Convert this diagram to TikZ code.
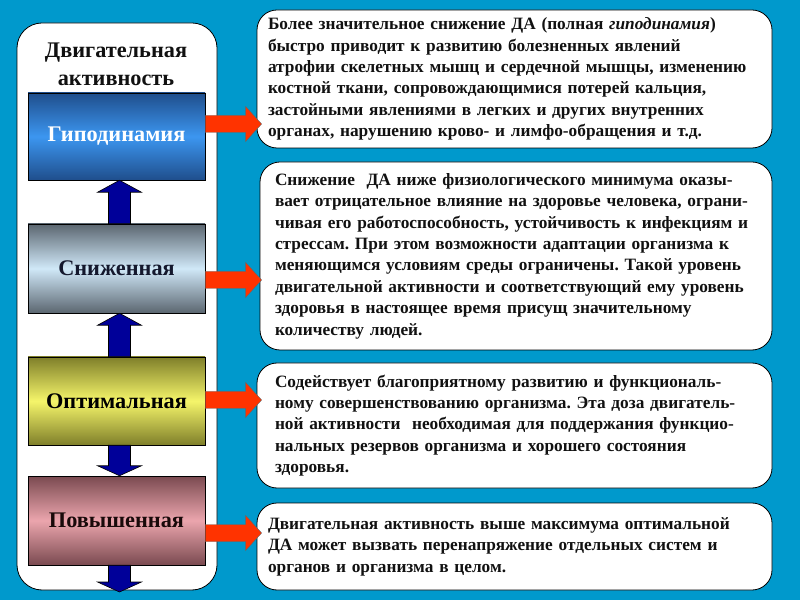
\documentclass[tikz,border=0pt]{standalone}
\usepackage{fontspec}
\setmainfont{Liberation Serif}
\usetikzlibrary{calc}
\definecolor{bg}{HTML}{0099CC}
\definecolor{hypoTop}{HTML}{1F4E8C}
\definecolor{hypoMid}{HTML}{3C96F0}
\definecolor{snTop}{HTML}{5B6670}
\definecolor{snMid}{HTML}{D0E8F8}
\definecolor{optTop}{HTML}{7F7F2A}
\definecolor{optMid}{HTML}{F5F56A}
\definecolor{povTop}{HTML}{7A4A50}
\definecolor{povMid}{HTML}{EBA5AD}
\definecolor{redarrow}{HTML}{FF3300}
\definecolor{navyarrow}{HTML}{000099}
\definecolor{ink}{HTML}{111111}
\tikzset{
  panel/.style={draw=black, line width=0.8pt, fill=white, rounded corners=25pt},
  level/.style={draw=black, line width=0.5pt, minimum width=177pt, font=\fontsize{22.3}{26}\selectfont\bfseries},
  tbox/.style={draw=black, line width=0.8pt, fill=white, rounded corners=20pt, minimum width=515pt,
    align=left, text=ink, font=\fontsize{17.3}{21.4}\selectfont\bfseries},
  bluearr/.style={draw=black, line width=0.6pt, fill=navyarrow},
  redarr/.style={draw=black!60, line width=0.4pt, fill=redarrow},
}
\newcommand\uparr[2]{\path[bluearr] let \p1=(#1), \p2=(#2) in
  (\x2-11pt,\y1) -- (\x2-11pt,\y2-12pt) -- (\x2-22pt,\y2-12pt) -- (\x2,\y2)
  -- (\x2+22pt,\y2-12pt) -- (\x2+11pt,\y2-12pt) -- (\x2+11pt,\y1) -- cycle;}
\newcommand\downarr[3]{\path[bluearr] let \p1=(#1), \p2=(#2) in
  (\x2-11pt,\y1) -- (\x2-11pt,\y2+#3) -- (\x2-22pt,\y2+#3) -- (\x2,\y2)
  -- (\x2+22pt,\y2+#3) -- (\x2+11pt,\y2+#3) -- (\x2+11pt,\y1) -- cycle;}
\newcommand\rarr[2]{\path[redarr] let \p1=(#1), \p2=(#2) in
  (\x1,\y1-8.5pt) -- (\x2-16pt,\y1-8.5pt) -- (\x2-16pt,\y1-17.5pt) -- (\x2,\y1)
  -- (\x2-16pt,\y1+17.5pt) -- (\x2-16pt,\y1+8.5pt) -- (\x1,\y1+8.5pt) -- cycle;}
\begin{document}
\frenchspacing
\begin{tikzpicture}[x=1pt,y=1pt]
\fill[bg] (0,0) rectangle (800,600);
\useasboundingbox (0,0) rectangle (800,600);
% left panel
\draw[panel] (17,10) rectangle (217,577);
\node[align=center, text=ink, font=\fontsize{22.3}{28}\selectfont\bfseries] (title) at (116,536) {Двигательная\\активность};
% level boxes
\node[level, minimum height=87pt, top color=hypoTop, bottom color=hypoTop, middle color=hypoMid, text=white] (hypo) at (116.5,463.5) {Гиподинамия};
\node[level, minimum height=89pt, top color=snTop, bottom color=snTop, middle color=snMid, text={rgb,255:red,20;green,24;blue,45}] (sn) at (116.5,331.5) {Сниженная};
\node[level, minimum height=88pt, top color=optTop, bottom color=optTop, middle color=optMid, text=black] (opt) at (116.5,199) {Оптимальная};
\node[level, minimum height=89pt, top color=povTop, bottom color=povTop, middle color=povMid, text={rgb,255:red,25;green,10;blue,10}] (pov) at (116.5,79.5) {Повышенная};
\coordinate (panelbottom) at (116.5,8);
% blue arrows
\uparr{$(sn.north)+(3,0)$}{$(hypo.south)+(3,0)$}
\uparr{$(opt.north)+(3,0)$}{$(sn.south)+(3,0)$}
\downarr{$(opt.south)+(3,0)$}{$(pov.north)+(3,0)$}{10pt}
\downarr{$(pov.south)+(3,0)$}{$(panelbottom)+(3,0)$}{10pt}
% text boxes
\node[tbox, minimum height=138pt, inner xsep=11pt, text width=493pt] (t1) at (514.5,521) {Более значительное снижение ДА (полная \textit{гиподинамия})\\
быстро приводит к развитию болезненных явлений\\
атрофии скелетных мышц и сердечной мышцы, изменению\\
костной ткани, сопровождающимися потерей кальция,\\
застойными явлениями в легких и других внутренних\\
органах, нарушению крово- и лимфо-обращения и т.д.};
\node[tbox, minimum height=188pt, minimum width=512pt, inner xsep=15pt, text width=482pt] (t2) at (516,344) {Снижение\ \ ДА ниже физиологического минимума оказы-\\
вает отрицательное влияние на здоровье человека, ограни-\\
чивая его работоспособность, устойчивость к инфекциям и\\
стрессам. При этом возможности адаптации организма к\\
меняющимся условиям среды ограничены. Такой уровень\\
двигательной активности и соответствующий ему уровень\\
здоровья в настоящее время присущ значительному\\
количеству людей.};
\node[tbox, minimum height=125pt, inner xsep=18pt, text width=479pt] (t3) at (514.5,174.5) {Содействует благоприятному развитию и функциональ-\\
ному совершенствованию организма. Эта доза двигатель-\\
ной активности\ \ необходимая для поддержания функцио-\\
нальных резервов организма и хорошего состояния\\
здоровья.};
\node[tbox, minimum height=87pt, inner xsep=11pt, text width=493pt] (t4) at (514.5,53.5) {Двигательная активность выше максимума оптимальной\\
ДА может вызвать перенапряжение отдельных систем и\\
органов и организма в целом.};
% red arrows
\rarr{$(hypo.east)+(0,12.5)$}{$(t1.west)+(5,0)$}
\rarr{$(sn.east)+(0,-11.5)$}{$(t2.west)+(2,0)$}
\rarr{$(opt.east)+(0,1)$}{$(t3.west)+(5,0)$}
\rarr{$(pov.east)+(0,-12.5)$}{$(t4.west)+(5,0)$}
\end{tikzpicture}
\end{document}
